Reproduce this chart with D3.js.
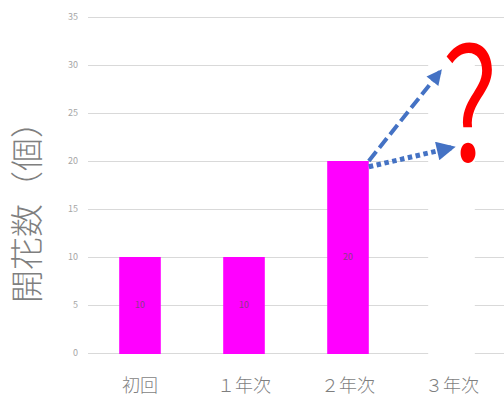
<!DOCTYPE html>
<html>
<head>
<meta charset="utf-8">
<script src="https://cdn.jsdelivr.net/npm/d3@7"></script>
<style>
  html, body { margin: 0; padding: 0; background: #fff; }
  svg { display: block; }
</style>
</head>
<body>
<svg id="chart" width="504" height="405"></svg>
<script>
const categories = ['初回', '１年次', '２年次', '３年次']
const flowers = [10, 10, 20, null]
// the 3rd-year slot is a white (hidden) bar in the original
const hiddenBar = { cat: '３年次', value: 31 }
const yTicks = [0, 5, 10, 15, 20, 25, 30, 35]

// arrows from the 2nd-year bar towards the unknown 3rd year
const arrows = [
  { from: 20, to: 29.3, toOffset: 8.8, dash: '12,5', width: 4 },
  { from: 19.4, to: 21.4, toOffset: 20.8, dash: '4.5,3.5', width: 5 },
]

const W = 504, H = 405
const margin = { left: 88, right: 0, top: 17, bottom: 52 }

const svg = d3.select('#chart')

const x = d3.scaleBand()
  .domain(categories)
  .range([margin.left, W - margin.right])
  .paddingInner(0.6)
  .paddingOuter(0.3)

const y = d3.scaleLinear()
  .domain([0, 35])
  .range([H - margin.bottom, margin.top])

// gridlines
svg.append('g')
  .selectAll('line')
  .data(yTicks)
  .join('line')
  .attr('x1', margin.left)
  .attr('x2', W)
  .attr('y1', (d) => y(d) + 0.5)
  .attr('y2', (d) => y(d) + 0.5)
  .attr('stroke', '#d9d9d9')
  .attr('stroke-width', 1)

// y tick labels
svg.append('g')
  .selectAll('text')
  .data(yTicks)
  .join('text')
  .attr('x', 78)
  .attr('y', (d) => y(d))
  .attr('dy', '0.35em')
  .attr('text-anchor', 'end')
  .attr('font-family', 'Noto Sans CJK JP, sans-serif')
  .attr('font-size', 9)
  .attr('fill', '#a6a6a6')
  .text((d) => d)

// white bar hiding the grid at 3rd year
svg.append('rect')
  .attr('x', x(hiddenBar.cat) - 3)
  .attr('width', x.bandwidth() + 5)
  .attr('y', y(hiddenBar.value))
  .attr('height', y(0) - y(hiddenBar.value) + 1)
  .attr('fill', '#fff')

const barData = categories.map((c, i) => ({ cat: c, value: flowers[i] })).filter((d) => d.value != null)

svg.append('g')
  .selectAll('rect')
  .data(barData)
  .join('rect')
  .attr('x', (d) => x(d.cat))
  .attr('width', x.bandwidth())
  .attr('y', (d) => y(d.value))
  .attr('height', (d) => y(0) - y(d.value) + 1)
  .attr('fill', '#ff00ff')

svg.append('g')
  .selectAll('text')
  .data(barData)
  .join('text')
  .attr('x', (d) => x(d.cat) + x.bandwidth() / 2)
  .attr('y', (d) => y(d.value / 2))
  .attr('dy', '0.35em')
  .attr('text-anchor', 'middle')
  .attr('font-family', 'Noto Sans CJK JP, sans-serif')
  .attr('font-size', 9)
  .attr('fill', '#8a3a8a')
  .text((d) => d.value)

// category labels
svg.append('g')
  .selectAll('text')
  .data(categories)
  .join('text')
  .attr('x', (d) => x(d) + x.bandwidth() / 2)
  .attr('y', 392)
  .attr('text-anchor', 'middle')
  .attr('font-family', 'Noto Sans CJK JP, sans-serif')
  .attr('font-weight', 300)
  .attr('font-size', 18)
  .attr('fill', '#7f7f7f')
  .text((d) => d)

// y axis title
svg.append('text')
  .attr('transform', 'translate(39,204) rotate(-90)')
  .attr('text-anchor', 'middle')
  .attr('font-family', 'Noto Sans CJK JP, sans-serif')
  .attr('font-weight', 300)
  .attr('font-size', 33)
  .attr('fill', '#7f7f7f')
  .text('開花数（個）')

// arrows
const defs = svg.append('defs')
defs.append('marker')
  .attr('id', 'head')
  .attr('viewBox', '0 -5 10 10')
  .attr('refX', 8)
  .attr('refY', 0)
  .attr('markerWidth', 4)
  .attr('markerHeight', 3.8)
  .attr('orient', 'auto')
  .append('path')
  .attr('d', 'M0,-5L10,0L0,5Z')
  .attr('fill', '#4472c4')

const x2 = x('２年次') + x.bandwidth()
const x3 = x('３年次')
svg.append('g')
  .selectAll('line')
  .data(arrows)
  .join('line')
  .attr('x1', x2)
  .attr('y1', (d) => y(d.from))
  .attr('x2', (d) => x3 + d.toOffset)
  .attr('y2', (d) => y(d.to))
  .attr('stroke', '#4472c4')
  .attr('stroke-width', (d) => d.width)
  .attr('stroke-dasharray', (d) => d.dash)
  .attr('marker-end', 'url(#head)')

// question mark
svg.append('text')
  .attr('transform', `translate(${x3 + x.bandwidth() - 3},${y(20)}) scale(0.78,1)`)
  .attr('text-anchor', 'middle')
  .attr('font-family', 'Noto Sans CJK JP, sans-serif')
  .attr('font-weight', 350)
  .attr('font-size', 156)
  .attr('fill', '#ff0000')
  .text('?')
</script>
</body>
</html>
